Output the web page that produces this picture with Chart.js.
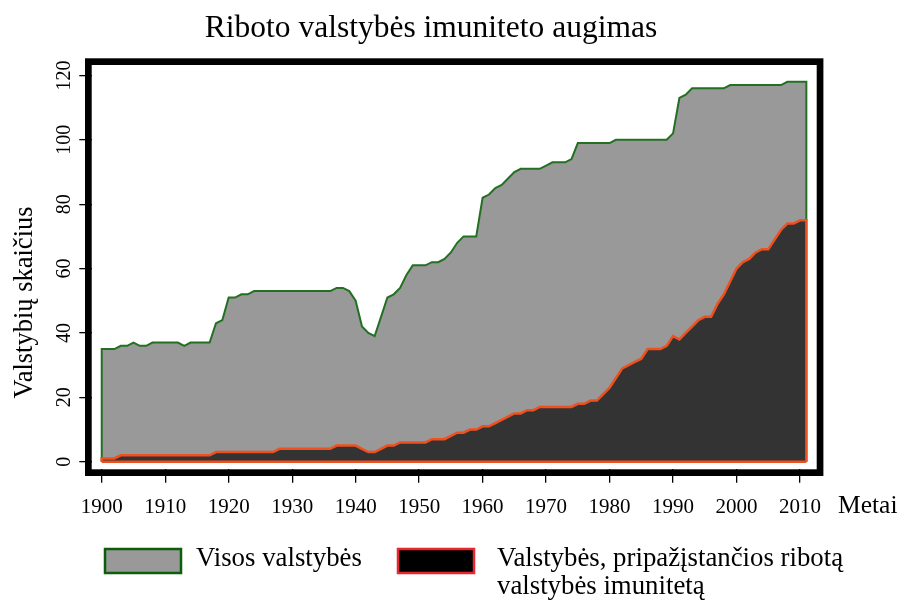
<!DOCTYPE html>
<html>
<head>
<meta charset="utf-8">
<title>Riboto valstybės imuniteto augimas</title>
<script src="https://cdn.jsdelivr.net/npm/chart.js@4.4.1/dist/chart.umd.min.js"></script>
<style>
  html, body { margin: 0; padding: 0; background: #fff; }
  #wrap { position: relative; width: 903px; height: 601px; }
</style>
</head>
<body>
<div id="wrap"><canvas id="immunityChart"></canvas></div>
<script>
const chartTitle = 'Riboto valstybės imuniteto augimas';
const yAxisTitle = 'Valstybių skaičius';
const xAxisTitle = 'Metai';
const seriesNames = [['Visos valstybės'], ['Valstybės, pripažįstančios ribotą', 'valstybės imunitetą']];

const years = [
  1900, 1901, 1902, 1903, 1904, 1905, 1906, 1907, 1908, 1909,
  1910, 1911, 1912, 1913, 1914, 1915, 1916, 1917, 1918, 1919,
  1920, 1921, 1922, 1923, 1924, 1925, 1926, 1927, 1928, 1929,
  1930, 1931, 1932, 1933, 1934, 1935, 1936, 1937, 1938, 1939,
  1940, 1941, 1942, 1943, 1944, 1945, 1946, 1947, 1948, 1949,
  1950, 1951, 1952, 1953, 1954, 1955, 1956, 1957, 1958, 1959,
  1960, 1961, 1962, 1963, 1964, 1965, 1966, 1967, 1968, 1969,
  1970, 1971, 1972, 1973, 1974, 1975, 1976, 1977, 1978, 1979,
  1980, 1981, 1982, 1983, 1984, 1985, 1986, 1987, 1988, 1989,
  1990, 1991, 1992, 1993, 1994, 1995, 1996, 1997, 1998, 1999,
  2000, 2001, 2002, 2003, 2004, 2005, 2006, 2007, 2008, 2009,
  2010, 2011
];

// Visos valstybės
const allStates = [
  35, 35, 35, 36, 36, 37, 36, 36, 37, 37,
  37, 37, 37, 36, 37, 37, 37, 37, 43, 44,
  51, 51, 52, 52, 53, 53, 53, 53, 53, 53,
  53, 53, 53, 53, 53, 53, 53, 54, 54, 53,
  50, 42, 40, 39, 45, 51, 52, 54, 58, 61,
  61, 61, 62, 62, 63, 65, 68, 70, 70, 70,
  82, 83, 85, 86, 88, 90, 91, 91, 91, 91,
  92, 93, 93, 93, 94, 99, 99, 99, 99, 99,
  99, 100, 100, 100, 100, 100, 100, 100, 100, 100,
  102, 113, 114, 116, 116, 116, 116, 116, 116, 117,
  117, 117, 117, 117, 117, 117, 117, 117, 118, 118,
  118, 118
];

// Valstybės, pripažįstančios ribotą valstybės imunitetą
const restrictiveStates = [
  1, 1, 1, 2, 2, 2, 2, 2, 2, 2,
  2, 2, 2, 2, 2, 2, 2, 2, 3, 3,
  3, 3, 3, 3, 3, 3, 3, 3, 4, 4,
  4, 4, 4, 4, 4, 4, 4, 5, 5, 5,
  5, 4, 3, 3, 4, 5, 5, 6, 6, 6,
  6, 6, 7, 7, 7, 8, 9, 9, 10, 10,
  11, 11, 12, 13, 14, 15, 15, 16, 16, 17,
  17, 17, 17, 17, 17, 18, 18, 19, 19, 21,
  23, 26, 29, 30, 31, 32, 35, 35, 35, 36,
  39, 38, 40, 42, 44, 45, 45, 49, 52, 56,
  60, 62, 63, 65, 66, 66, 69, 72, 74, 74,
  75, 75
];

const xTickValues = [1900, 1910, 1920, 1930, 1940, 1950, 1960, 1970, 1980, 1990, 2000, 2010];
const yTickValues = [0, 20, 40, 60, 80, 100, 120];

const FONT = '"Liberation Serif", "Times New Roman", serif';
const GRAY = '#999999';
const DARK = '#333333';
const GREEN = '#237023';
const ORANGE = '#f0501e';

// closed outline: down to zero at first and last year
function areaPoints(values) {
  const pts = [{ x: years[0], y: 0 }];
  years.forEach((yr, i) => pts.push({ x: yr, y: values[i] }));
  pts.push({ x: years[years.length - 1], y: 0 });
  return pts;
}

const decorations = {
  id: 'decorations',
  afterDatasetsDraw(chart) {
    const { ctx, chartArea: a } = chart;
    ctx.save();
    ctx.strokeStyle = '#000';
    ctx.lineWidth = 6.7;
    ctx.strokeRect(a.left - 3.35, a.top - 3.35, a.right - a.left + 6.7, a.bottom - a.top + 6.7);
    ctx.restore();
  },
  afterDraw(chart) {
    const ctx = chart.ctx;
    ctx.save();
    ctx.fillStyle = '#000';
    ctx.textBaseline = 'alphabetic';

    // title
    ctx.font = '31.5px ' + FONT;
    ctx.textAlign = 'center';
    ctx.fillText(chartTitle, 431, 37);

    // y title
    ctx.save();
    ctx.translate(31.7, 302.5);
    ctx.rotate(-Math.PI / 2);
    ctx.font = '26.5px ' + FONT;
    ctx.fillText(yAxisTitle, 0, 0);
    ctx.restore();

    // x title
    ctx.font = '25.5px ' + FONT;
    ctx.textAlign = 'left';
    ctx.fillText(xAxisTitle, 838, 513);

    // legend
    const items = [
      { x: 105, fill: GRAY, stroke: '#0b5e0b', textX: 196 },
      { x: 398, fill: '#000000', stroke: '#e8262f', textX: 497 }
    ];
    items.forEach((it, i) => {
      ctx.fillStyle = it.fill;
      ctx.fillRect(it.x, 549, 76, 24);
      ctx.lineWidth = 2.5;
      ctx.strokeStyle = it.stroke;
      ctx.strokeRect(it.x, 549, 76, 24);
      ctx.fillStyle = '#000';
      ctx.font = '26.8px ' + FONT;
      seriesNames[i].forEach((line, j) => ctx.fillText(line, it.textX, 566 + j * 28));
    });
    ctx.restore();
  }
};

new Chart(document.getElementById('immunityChart'), {
  type: 'line',
  data: {
    datasets: [
      {
        label: 'baseline',
        data: [{ x: years[0], y: 0 }, { x: years[years.length - 1], y: 0 }],
        borderColor: ORANGE,
        borderWidth: 2.5,
        pointRadius: 0,
        fill: false
      },
      {
        label: seriesNames[1].join(' '),
        data: areaPoints(restrictiveStates),
        borderColor: ORANGE,
        backgroundColor: DARK,
        borderWidth: 2.5,
        pointRadius: 0,
        tension: 0,
        fill: 'origin'
      },
      {
        label: seriesNames[0][0],
        data: areaPoints(allStates),
        borderColor: GREEN,
        backgroundColor: GRAY,
        borderWidth: 2,
        pointRadius: 0,
        tension: 0,
        fill: 'origin'
      }
    ]
  },
  options: {
    responsive: true,
    maintainAspectRatio: false,
    animation: false,
    layout: { padding: { left: 0, top: 65, right: 86.3, bottom: 66.7 } },
    plugins: {
      legend: { display: false },
      title: { display: false },
      tooltip: { enabled: false }
    },
    scales: {
      x: {
        type: 'linear',
        min: 1898.42,
        max: 2012.63,
        afterBuildTicks: (scale) => { scale.ticks = xTickValues.map(v => ({ value: v })); },
        afterFit: (scale) => { scale.height = 65; },
        grid: { drawOnChartArea: false, drawTicks: true, tickLength: 13.4, color: '#000', lineWidth: 1.3 },
        border: { display: false },
        ticks: {
          autoSkip: false,
          maxRotation: 0,
          padding: 12.5,
          color: '#000',
          font: { family: FONT, size: 21 },
          callback: (v) => String(v)
        }
      },
      y: {
        type: 'linear',
        min: -2.36,
        max: 123.24,
        afterBuildTicks: (scale) => { scale.ticks = yTickValues.map(v => ({ value: v })); },
        afterFit: (scale) => { scale.width = 91.7; },
        grid: { drawOnChartArea: false, drawTicks: true, tickLength: 12.4, color: '#000', lineWidth: 1.3 },
        border: { display: false },
        ticks: {
          autoSkip: false,
          minRotation: 90,
          maxRotation: 90,
          crossAlign: 'center',
          padding: 0,
          color: '#000',
          font: { family: FONT, size: 20 }
        }
      }
    }
  },
  plugins: [decorations]
});
</script>
</body>
</html>
